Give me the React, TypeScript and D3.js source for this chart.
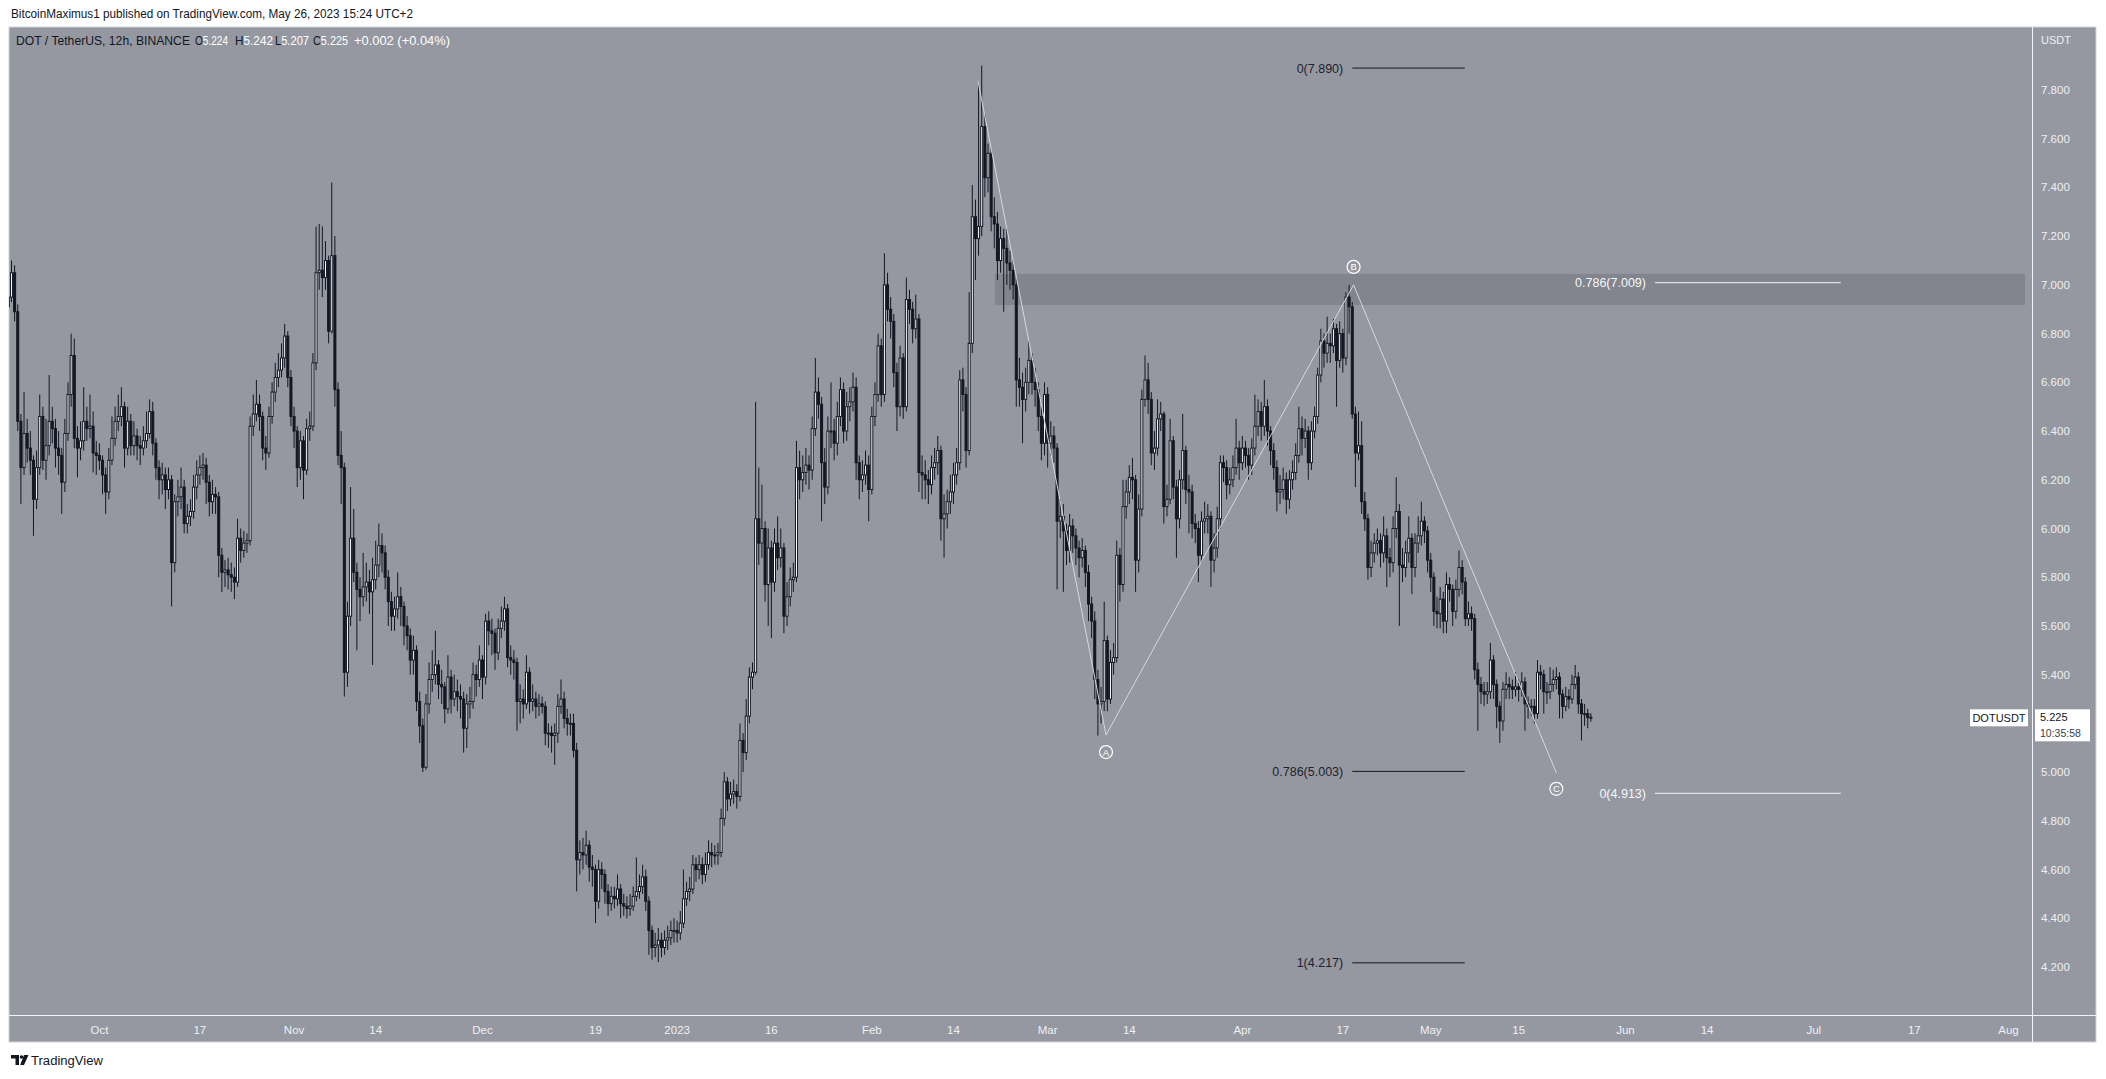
import React from 'react';
import * as d3 from 'd3';

const W = 2106;
const H = 1079;

// 12h candles, first candle opens 2022-09-16 12:00 UTC, last 2023-05-26 12:00 UTC
const FIRST_CANDLE = Date.UTC(2022, 8, 16, 12);
const STEP = 12 * 3600 * 1000;
const FIRST_OPEN = 6.91;

const closes = [
  6.95,7.05,6.89,6.44,6.25,6.39,6.33,6.28,6.12,6.25,
  6.46,6.28,6.34,6.44,6.41,6.33,6.30,6.19,6.39,6.55,
  6.71,6.37,6.33,6.36,6.44,6.41,6.42,6.31,6.30,6.28,
  6.22,6.15,6.28,6.37,6.44,6.46,6.50,6.33,6.44,6.34,
  6.38,6.34,6.33,6.36,6.39,6.48,6.35,6.25,6.20,6.22,
  6.16,6.20,5.86,6.11,6.13,6.17,6.02,6.05,6.07,6.17,
  6.22,6.25,6.26,6.19,6.11,6.14,6.13,5.89,5.82,5.83,
  5.81,5.80,5.78,5.96,5.91,5.94,5.95,6.42,6.47,6.51,
  6.46,6.33,6.31,6.46,6.56,6.62,6.65,6.70,6.79,6.62,
  6.46,6.40,6.25,6.36,6.24,6.41,6.42,6.68,7.05,7.06,
  7.03,7.10,6.81,7.12,6.57,6.30,6.25,5.41,5.64,5.96,
  5.82,5.75,5.72,5.76,5.78,5.74,5.79,5.85,5.93,5.90,
  5.80,5.70,5.64,5.67,5.72,5.68,5.60,5.56,5.46,5.50,
  5.29,5.19,5.02,5.28,5.38,5.40,5.44,5.36,5.35,5.26,
  5.39,5.30,5.33,5.31,5.30,5.18,5.28,5.29,5.40,5.38,
  5.46,5.39,5.62,5.58,5.57,5.49,5.59,5.62,5.67,5.47,
  5.46,5.45,5.29,5.30,5.28,5.41,5.29,5.30,5.27,5.28,
  5.27,5.16,5.16,5.15,5.16,5.27,5.30,5.22,5.20,5.20,
  5.09,4.64,4.67,4.66,4.70,4.61,4.60,4.47,4.60,4.58,
  4.51,4.46,4.49,4.48,4.52,4.46,4.45,4.44,4.45,4.49,
  4.51,4.53,4.57,4.47,4.35,4.28,4.29,4.31,4.28,4.31,
  4.32,4.35,4.35,4.34,4.38,4.48,4.51,4.52,4.62,4.60,
  4.62,4.58,4.62,4.67,4.66,4.66,4.67,4.81,4.96,4.89,
  4.91,4.92,4.90,5.13,5.08,5.23,5.39,5.41,6.04,5.94,
  6.00,5.77,5.92,5.78,5.94,5.88,5.92,5.64,5.72,5.79,
  5.80,6.25,6.20,6.23,6.26,6.24,6.41,6.56,6.51,6.27,
  6.17,6.40,6.40,6.35,6.46,6.57,6.40,6.50,6.52,6.58,
  6.27,6.20,6.22,6.26,6.16,6.46,6.55,6.75,6.55,7.00,
  6.90,6.85,6.64,6.50,6.70,6.50,6.94,6.90,6.82,6.86,
  6.23,6.22,6.20,6.18,6.25,6.27,6.32,6.04,6.06,6.11,
  6.15,6.22,6.27,6.61,6.55,6.32,6.76,7.28,7.19,7.24,
  7.65,7.44,7.54,7.28,7.25,7.10,7.19,7.15,7.09,7.06,
  7.00,6.61,6.58,6.53,6.60,6.69,6.60,6.57,6.46,6.35,
  6.55,6.35,6.38,6.33,6.03,6.05,5.99,5.91,6.01,5.97,
  5.92,5.88,5.91,5.82,5.69,5.62,5.38,5.28,5.29,5.54,
  5.30,5.45,5.47,5.89,5.77,6.09,6.15,6.21,6.20,5.87,
  6.08,6.53,6.61,6.53,6.31,6.33,6.45,6.47,6.09,6.12,
  6.36,6.17,6.04,6.20,6.32,6.16,6.15,6.02,6.00,5.89,
  6.03,6.04,6.05,5.87,5.92,6.04,6.27,6.25,6.18,6.20,
  6.25,6.33,6.27,6.33,6.30,6.26,6.33,6.42,6.48,6.42,
  6.50,6.40,6.32,6.25,6.15,6.16,6.20,6.12,6.20,6.23,
  6.30,6.41,6.37,6.40,6.27,6.40,6.46,6.63,6.77,6.72,
  6.76,6.75,6.82,6.69,6.80,6.70,6.95,6.91,6.47,6.31,
  6.34,6.11,6.04,5.84,5.90,5.94,5.95,5.90,5.97,5.88,
  5.86,6.00,6.07,5.85,5.84,5.90,5.96,5.84,5.94,5.97,
  6.03,5.99,5.87,5.80,5.66,5.65,5.71,5.62,5.77,5.75,
  5.66,5.75,5.84,5.78,5.63,5.65,5.63,5.42,5.36,5.33,
  5.32,5.33,5.46,5.36,5.27,5.21,5.34,5.36,5.35,5.34,
  5.35,5.34,5.37,5.28,5.27,5.27,5.24,5.41,5.40,5.33,
  5.33,5.36,5.38,5.39,5.32,5.27,5.31,5.30,5.36,5.39,
  5.28,5.24,5.24,5.224,5.225,
];

const highs = [
  7.16,7.10,7.08,6.92,6.47,6.56,6.45,6.40,6.30,6.32,
  6.55,6.50,6.45,6.63,6.50,6.45,6.40,6.33,6.45,6.60,
  6.80,6.78,6.42,6.44,6.58,6.50,6.55,6.48,6.36,6.35,
  6.30,6.25,6.33,6.46,6.50,6.55,6.58,6.52,6.50,6.47,
  6.44,6.41,6.38,6.42,6.48,6.53,6.52,6.37,6.28,6.27,
  6.25,6.25,6.22,6.14,6.20,6.25,6.20,6.10,6.12,6.22,
  6.28,6.30,6.31,6.29,6.22,6.20,6.17,6.15,5.92,5.87,
  5.88,5.86,5.84,6.04,6.00,5.99,5.98,6.46,6.55,6.61,
  6.55,6.48,6.38,6.50,6.60,6.68,6.72,6.76,6.84,6.81,
  6.65,6.50,6.42,6.40,6.38,6.45,6.48,6.72,7.24,7.25,
  7.24,7.18,7.12,7.42,7.20,6.60,6.40,6.27,5.70,6.17,
  6.08,5.86,5.80,5.90,5.86,5.83,5.88,5.95,6.02,5.98,
  5.93,5.83,5.74,5.72,5.82,5.76,5.70,5.64,5.59,5.56,
  5.52,5.33,5.22,5.32,5.45,5.50,5.58,5.46,5.42,5.37,
  5.48,5.42,5.40,5.38,5.36,5.33,5.32,5.35,5.45,5.44,
  5.52,5.48,5.65,5.66,5.63,5.59,5.63,5.68,5.72,5.69,
  5.52,5.50,5.47,5.36,5.34,5.48,5.43,5.36,5.33,5.32,
  5.31,5.29,5.20,5.19,5.20,5.32,5.38,5.33,5.26,5.24,
  5.24,5.12,4.72,4.73,4.76,4.72,4.66,4.62,4.64,4.63,
  4.60,4.54,4.53,4.53,4.58,4.54,4.50,4.49,4.50,4.53,
  4.65,4.58,4.62,4.60,4.49,4.37,4.34,4.36,4.34,4.35,
  4.37,4.39,4.40,4.39,4.43,4.60,4.55,4.57,4.66,4.65,
  4.66,4.65,4.67,4.72,4.71,4.70,4.71,4.85,5.00,4.98,
  4.96,4.97,4.95,5.20,5.16,5.30,5.43,5.45,6.52,6.25,
  6.18,6.03,6.00,5.95,6.00,6.05,6.00,5.94,5.78,5.84,
  5.86,6.36,6.32,6.30,6.33,6.30,6.46,6.70,6.62,6.54,
  6.33,6.46,6.60,6.45,6.52,6.62,6.60,6.56,6.58,6.64,
  6.62,6.30,6.28,6.32,6.30,6.50,6.60,6.80,6.78,7.13,
  7.05,6.95,6.88,6.68,6.75,6.72,7.03,6.98,6.93,6.96,
  6.88,6.30,6.28,6.24,6.30,6.33,6.38,6.34,6.14,6.16,
  6.22,6.27,6.33,6.65,6.66,6.58,6.97,7.41,7.35,7.83,
  7.90,7.70,7.58,7.56,7.36,7.30,7.24,7.23,7.23,7.14,
  7.10,7.03,6.70,6.64,6.66,6.77,6.72,6.66,6.60,6.50,
  6.60,6.58,6.44,6.42,6.35,6.12,6.10,6.02,6.06,6.04,
  6.00,5.95,5.96,5.93,5.85,5.72,5.66,5.42,5.35,5.70,
  5.56,5.50,5.53,5.95,5.92,6.20,6.20,6.26,6.29,6.22,
  6.14,6.57,6.71,6.68,6.56,6.40,6.53,6.52,6.48,6.18,
  6.45,6.38,6.20,6.24,6.47,6.34,6.22,6.18,6.06,6.03,
  6.07,6.11,6.10,6.07,5.98,6.09,6.30,6.30,6.28,6.25,
  6.30,6.45,6.36,6.38,6.36,6.33,6.37,6.55,6.53,6.52,
  6.61,6.53,6.42,6.35,6.28,6.22,6.25,6.23,6.24,6.28,
  6.35,6.50,6.46,6.45,6.42,6.44,6.50,6.66,6.82,6.80,
  6.87,6.80,6.86,6.84,6.85,6.82,6.97,7.00,6.93,6.50,
  6.48,6.44,6.15,6.06,5.95,5.98,6.00,5.98,6.05,6.00,
  5.92,6.05,6.21,6.10,5.92,5.95,6.05,5.98,5.98,6.05,
  6.11,6.05,6.01,5.90,5.82,5.72,5.76,5.74,5.82,5.80,
  5.77,5.79,5.91,5.87,5.80,5.70,5.68,5.65,5.45,5.39,
  5.37,5.37,5.53,5.48,5.38,5.29,5.37,5.41,5.39,5.38,
  5.41,5.38,5.41,5.39,5.31,5.30,5.30,5.46,5.44,5.42,
  5.37,5.43,5.42,5.43,5.41,5.34,5.35,5.34,5.40,5.44,
  5.41,5.30,5.28,5.26,5.242,
];

const lows = [
  6.88,6.93,6.85,6.40,6.10,6.22,6.27,6.22,5.97,6.08,
  6.22,6.24,6.20,6.30,6.35,6.25,6.22,6.06,6.15,6.36,
  6.50,6.33,6.21,6.28,6.32,6.36,6.37,6.23,6.22,6.24,
  6.14,6.06,6.12,6.26,6.34,6.40,6.42,6.25,6.30,6.30,
  6.30,6.28,6.26,6.30,6.33,6.37,6.30,6.20,6.12,6.14,
  6.08,6.12,5.68,5.82,6.05,6.08,5.98,5.98,6.01,6.04,
  6.12,6.18,6.20,6.10,6.05,6.06,6.06,5.80,5.74,5.76,
  5.75,5.74,5.71,5.76,5.86,5.88,5.90,5.93,6.38,6.44,
  6.40,6.28,6.24,6.29,6.43,6.52,6.58,6.62,6.66,6.58,
  6.42,6.33,6.17,6.20,6.12,6.22,6.36,6.40,6.65,6.98,
  6.95,6.98,6.76,6.80,6.50,6.26,6.10,5.31,5.35,5.60,
  5.78,5.50,5.62,5.68,5.70,5.65,5.44,5.75,5.80,5.82,
  5.75,5.60,5.58,5.58,5.63,5.60,5.52,5.50,5.40,5.40,
  5.25,5.12,5.00,5.01,5.24,5.33,5.36,5.30,5.28,5.20,
  5.24,5.24,5.27,5.25,5.22,5.08,5.10,5.22,5.26,5.31,
  5.35,5.30,5.36,5.52,5.48,5.42,5.46,5.55,5.58,5.43,
  5.40,5.38,5.17,5.20,5.22,5.26,5.24,5.25,5.22,5.23,
  5.24,5.11,5.10,5.08,5.03,5.12,5.24,5.18,5.15,5.15,
  5.06,4.51,4.58,4.60,4.62,4.55,4.53,4.38,4.44,4.52,
  4.46,4.41,4.43,4.44,4.45,4.40,4.41,4.40,4.41,4.43,
  4.47,4.48,4.50,4.43,4.25,4.23,4.24,4.22,4.24,4.25,
  4.27,4.29,4.30,4.30,4.31,4.36,4.45,4.47,4.50,4.55,
  4.56,4.54,4.55,4.60,4.61,4.62,4.62,4.65,4.78,4.84,
  4.86,4.87,4.85,4.88,5.00,5.05,5.20,5.34,5.40,5.85,
  5.88,5.70,5.60,5.55,5.74,5.83,5.84,5.57,5.60,5.68,
  5.74,5.78,6.12,6.15,6.18,6.16,6.20,6.38,6.45,6.03,
  6.10,6.14,6.33,6.28,6.30,6.42,6.35,6.36,6.44,6.48,
  6.20,6.12,6.15,6.18,6.03,6.14,6.42,6.52,6.50,6.52,
  6.85,6.78,6.58,6.40,6.46,6.45,6.48,6.84,6.76,6.78,
  6.15,6.12,6.12,6.10,6.14,6.20,6.22,5.95,5.88,6.00,
  6.06,6.10,6.18,6.24,6.48,6.25,6.30,6.72,7.02,7.12,
  7.20,7.36,7.38,7.22,7.15,7.02,7.05,6.89,7.00,6.98,
  6.94,6.50,6.50,6.35,6.48,6.55,6.55,6.50,6.40,6.28,
  6.30,6.25,6.30,6.27,5.75,5.96,5.74,5.85,5.86,5.90,
  5.85,5.80,5.84,5.76,5.62,5.55,5.30,5.15,5.20,5.25,
  5.25,5.28,5.40,5.45,5.70,5.74,6.04,6.10,6.12,5.74,
  5.82,6.05,6.50,6.47,6.26,6.24,6.30,6.40,6.02,6.05,
  6.10,6.12,5.88,6.00,6.16,6.10,5.98,5.96,5.94,5.78,
  5.86,5.98,5.98,5.76,5.82,5.88,6.00,6.19,6.12,6.14,
  6.17,6.22,6.20,6.24,6.25,6.20,6.22,6.30,6.38,6.36,
  6.38,6.34,6.26,6.20,6.07,6.10,6.12,6.06,6.08,6.16,
  6.20,6.27,6.30,6.33,6.20,6.24,6.37,6.43,6.60,6.66,
  6.68,6.68,6.72,6.50,6.66,6.64,6.67,6.80,6.45,6.17,
  6.28,6.06,5.99,5.79,5.80,5.86,5.89,5.84,5.86,5.76,
  5.80,5.82,5.96,5.60,5.78,5.80,5.86,5.73,5.80,5.90,
  5.93,5.94,5.82,5.74,5.60,5.59,5.59,5.57,5.57,5.70,
  5.60,5.63,5.72,5.73,5.60,5.60,5.58,5.38,5.17,5.28,
  5.27,5.28,5.30,5.30,5.18,5.12,5.17,5.30,5.30,5.30,
  5.31,5.29,5.31,5.17,5.22,5.23,5.20,5.22,5.34,5.24,
  5.28,5.30,5.33,5.34,5.22,5.22,5.25,5.26,5.28,5.34,
  5.24,5.13,5.19,5.18,5.207,
];

// Axis ticks
const yTicks = [4.2, 4.4, 4.6, 4.8, 5.0, 5.2, 5.4, 5.6, 5.8, 6.0, 6.2, 6.4, 6.6, 6.8, 7.0, 7.2, 7.4, 7.6, 7.8];
const xTickDates = [
  [2022, 9, 1], [2022, 9, 17], [2022, 10, 1], [2022, 10, 14], [2022, 11, 1], [2022, 11, 19],
  [2023, 0, 1], [2023, 0, 16], [2023, 1, 1], [2023, 1, 14], [2023, 2, 1], [2023, 2, 14],
  [2023, 3, 1], [2023, 3, 17], [2023, 4, 1], [2023, 4, 15], [2023, 5, 1], [2023, 5, 14],
  [2023, 6, 1], [2023, 6, 17], [2023, 7, 1],
];
const xTickLabels = ['Oct', '17', 'Nov', '14', 'Dec', '19', '2023', '16', 'Feb', '14', 'Mar', '14', 'Apr', '17', 'May', '15', 'Jun', '14', 'Jul', '17', 'Aug'];

// Legend values
const legendTitle = 'DOT / TetherUS, 12h, BINANCE';
const legendKeys = ['O', 'H', 'L', 'C'];
const legendVals = ['5.224', '5.242', '5.207', '5.225'];
const legendChange = '+0.002 (+0.04%)';
const lastPrice = 5.225;
const countdown = '10:35:58';

// Fibonacci levels
const fibLabels = ['0(7.890)', '0.786(5.003)', '1(4.217)', '0.786(7.009)', '0(4.913)'];
const fibValues = [7.89, 5.003, 4.217, 7.009, 4.913];
const fibStart = [Date.UTC(2023, 3, 18, 12), Date.UTC(2023, 3, 18, 12), Date.UTC(2023, 3, 18, 12), Date.UTC(2023, 5, 5, 17), Date.UTC(2023, 5, 5, 17)];
const fibEnd = [Date.UTC(2023, 4, 6, 10), Date.UTC(2023, 4, 6, 10), Date.UTC(2023, 4, 6, 10), Date.UTC(2023, 6, 5, 7), Date.UTC(2023, 6, 5, 7)];
const fibLight = [false, false, false, true, true];

// ABC wave
const waveDates = [Date.UTC(2023, 1, 17, 22), Date.UTC(2023, 2, 10, 7), Date.UTC(2023, 3, 18, 17), Date.UTC(2023, 4, 21, 0)];
const waveValues = [7.835, 5.152, 7.0, 4.997];
const waveLabels = ['', 'A', 'B', 'C'];
const waveLabelDy = [0, 17, -18, 16];

// Resistance zone
const zoneTop = 7.045;
const zoneBottom = 6.917;
const zoneStart = Date.UTC(2023, 1, 20, 14);

const DARK = '#131722';
const BG = '#9598a1';
const LIGHT = '#f0f3fa';

const PLOT_L = 9, PLOT_T = 27, PLOT_R = 2032, PLOT_B = 1015, FRAME_R = 2096, FRAME_B = 1042;

const x = d3.scaleUtc()
  .domain([new Date(Date.UTC(2022, 9, 1)), new Date(Date.UTC(2023, 7, 1))])
  .range([99.4, 2008.5]);
const y = d3.scaleLinear().domain([4.2, 7.8]).range([967, 90]);

const FONT = "'Liberation Sans', Arial, sans-serif";

const legendX = [195, 235, 275, 313];
const legendW = [33, 38, 34, 35];

export default function App() {
  const candles = closes.map((c, i) => {
    const o = i === 0 ? FIRST_OPEN : closes[i - 1];
    return {
      t: new Date(FIRST_CANDLE + i * STEP),
      o, c,
      h: Math.max(highs[i], o, c),
      l: Math.min(lows[i], o, c),
    };
  });

  const waveLine = d3.line<number>()
    .x((_, i) => x(new Date(waveDates[i])))
    .y((v) => y(v));

  const lastY = y(lastPrice);
  // the price scale hides tick labels that the last-price label covers
  const shownTicks = yTicks.filter((v) => Math.abs(y(v) - lastY) > 18);

  return (
    <svg width={W} height={H} style={{ position: 'absolute', left: 0, top: 0, background: '#fff' }}>
      <defs>
        <clipPath id="plot">
          <rect x={PLOT_L} y={PLOT_T} width={PLOT_R - PLOT_L} height={PLOT_B - PLOT_T} />
        </clipPath>
      </defs>
      <rect x={0} y={0} width={W} height={H} fill="#ffffff" />
      <text x={11} y={18} fontFamily={FONT} fontSize={12} fill={DARK} textLength={402} lengthAdjust="spacingAndGlyphs">
        BitcoinMaximus1 published on TradingView.com, May 26, 2023 15:24 UTC+2
      </text>

      {/* chart frame */}
      <rect x={PLOT_L} y={PLOT_T} width={FRAME_R - PLOT_L} height={FRAME_B - PLOT_T} fill={BG} stroke="#d1d4dc" strokeWidth={1} />

      <g clipPath="url(#plot)">
        {/* zone */}
        <rect x={x(new Date(zoneStart))} y={y(zoneTop)} width={2025 - x(new Date(zoneStart))} height={y(zoneBottom) - y(zoneTop)} fill="#82858e" />

        {/* candles */}
        {candles.map((d, i) => {
          const cx = x(d.t);
          const up = d.c >= d.o;
          const top = y(Math.max(d.o, d.c));
          const bh = Math.max(1, Math.abs(y(d.o) - y(d.c)));
          return (
            <g key={i}>
              <line x1={cx} x2={cx} y1={y(d.h)} y2={y(d.l)} stroke={DARK} strokeWidth={1} />
              <rect x={cx - 1} y={top} width={2} height={bh} fill={up ? '#ffffff' : DARK} stroke={DARK} strokeWidth={1} />
            </g>
          );
        })}

        {/* wave */}
        <path d={waveLine(waveValues) || ''} fill="none" stroke="#d6d8de" strokeWidth={1} />
        {waveLabels.map((lab, i) => lab ? (
          <g key={lab}>
            <circle cx={x(new Date(waveDates[i]))} cy={y(waveValues[i]) + waveLabelDy[i]} r={6.5} fill="none" stroke="#ffffff" strokeWidth={1.2} />
            <text x={x(new Date(waveDates[i]))} y={y(waveValues[i]) + waveLabelDy[i] + 3.5} textAnchor="middle" fontFamily={FONT} fontSize={9.5} fill="#ffffff">{lab}</text>
          </g>
        ) : null)}

        {/* fib levels */}
        {fibValues.map((v, i) => {
          const x0 = x(new Date(fibStart[i]));
          const x1 = x(new Date(fibEnd[i]));
          const col = fibLight[i] ? '#f5f6f8' : DARK;
          return (
            <g key={i}>
              <line x1={x0} x2={x1} y1={y(v)} y2={y(v)} stroke={col} strokeWidth={1} />
              <text x={x0 - 9} y={y(v) + 4.5} textAnchor="end" fontFamily={FONT} fontSize={12.5} fill={fibLight[i] ? '#f5f6f8' : '#1e222d'}>{fibLabels[i]}</text>
            </g>
          );
        })}
      </g>

      {/* legend */}
      <text x={16} y={45} fontFamily={FONT} fontSize={12} fill={DARK} textLength={174} lengthAdjust="spacingAndGlyphs">{legendTitle}</text>
      {legendKeys.map((k, i) => (
        <text key={k} x={legendX[i]} y={45} fontFamily={FONT} fontSize={12} textLength={legendW[i]} lengthAdjust="spacingAndGlyphs">
          <tspan fill={DARK}>{k}</tspan><tspan fill="#ffffff">{legendVals[i]}</tspan>
        </text>
      ))}
      <text x={354} y={45} fontFamily={FONT} fontSize={12} fill="#ffffff" textLength={96} lengthAdjust="spacingAndGlyphs">{legendChange}</text>

      {/* separators */}
      <line x1={PLOT_R + 0.5} x2={PLOT_R + 0.5} y1={PLOT_T} y2={FRAME_B} stroke={LIGHT} strokeWidth={1} />
      <line x1={PLOT_L} x2={FRAME_R} y1={PLOT_B + 0.5} y2={PLOT_B + 0.5} stroke={LIGHT} strokeWidth={1} />

      {/* y axis */}
      <text x={2041} y={44} fontFamily={FONT} fontSize={11} fill="#eef0f4">USDT</text>
      {shownTicks.map((v) => (
        <text key={v} x={2041} y={y(v) + 4} fontFamily={FONT} fontSize={11.5} fill="#eef0f4">{v.toFixed(3)}</text>
      ))}

      {/* last price labels */}
      <rect x={1970} y={lastY - 8} width={58} height={17} fill="#ffffff" />
      <text x={1999} y={lastY + 4.5} textAnchor="middle" fontFamily={FONT} fontSize={11} fill={DARK}>DOTUSDT</text>
      <rect x={2035} y={lastY - 8} width={55} height={32} fill="#ffffff" />
      <text x={2040} y={lastY + 3.5} fontFamily={FONT} fontSize={11} fill={DARK}>{lastPrice.toFixed(3)}</text>
      <text x={2040} y={lastY + 19.5} fontFamily={FONT} fontSize={10.5} fill="#3a3e4a">{countdown}</text>

      {/* x axis */}
      {xTickDates.map((d, i) => (
        <text key={i} x={x(new Date(Date.UTC(d[0], d[1], d[2])))} y={1034} textAnchor="middle" fontFamily={FONT} fontSize={11.5} fill="#eef0f4">{xTickLabels[i]}</text>
      ))}

      {/* footer logo */}
      <path d="M11 1055 h8 v10 h-3.5 v-6.5 h-4.5 z" fill={DARK} />
      <circle cx={21.5} cy={1057} r={1.8} fill={DARK} />
      <path d="M24 1055 h4.5 l-4.5 10 h-3.8 z" fill={DARK} />
      <text x={31} y={1065} fontFamily={FONT} fontSize={12} fill={DARK} textLength={72} lengthAdjust="spacingAndGlyphs">TradingView</text>
    </svg>
  );
}
